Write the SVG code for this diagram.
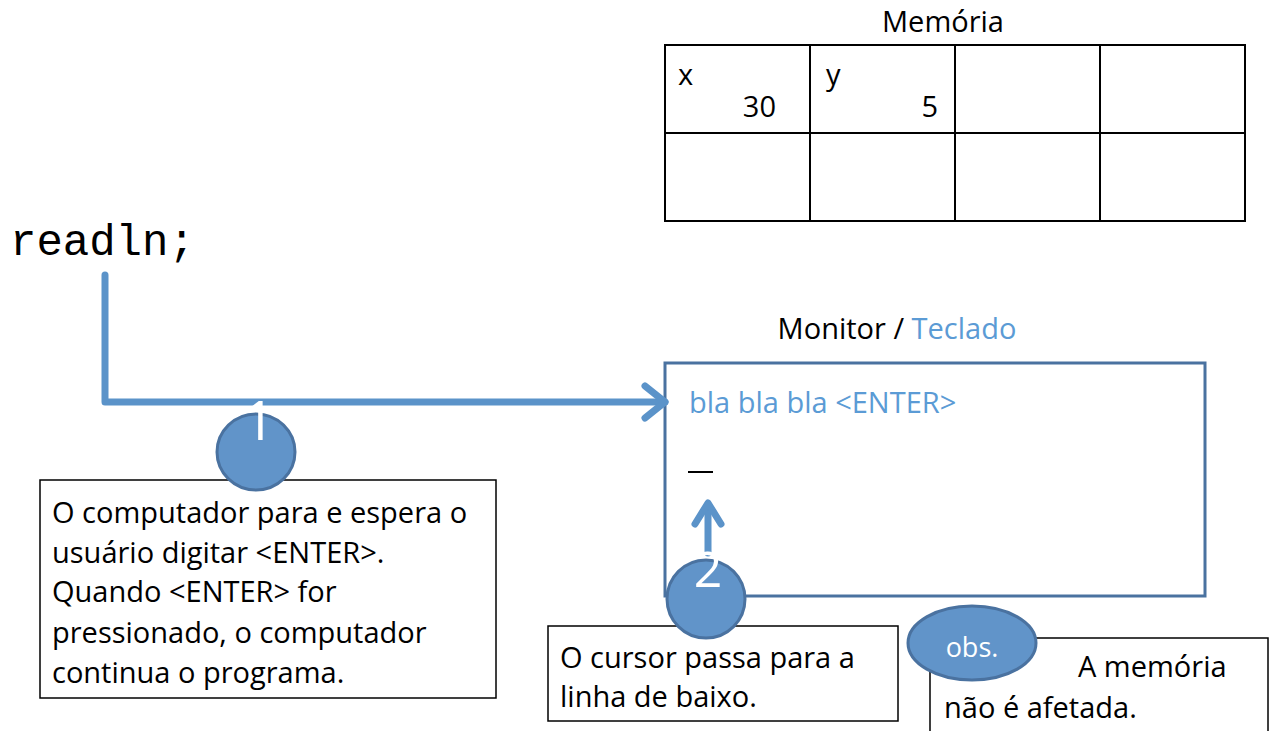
<svg xmlns="http://www.w3.org/2000/svg" width="1271" height="731" viewBox="0 0 1271 731">
<style>
.t{font-family:"Open Sans","Liberation Sans",sans-serif;font-size:29px;fill:#000}
.b{fill:#5b9bd5}
.w{fill:#fff}
.cell{fill:none;stroke:#000;stroke-width:2}
.box{fill:#fff;stroke:#000;stroke-width:1.5}
.bub{fill:#6194c9;stroke:#4a72a0;stroke-width:3}
.con{fill:none;stroke:#5b93c9;stroke-width:7;stroke-linecap:round;stroke-linejoin:round}
</style>
<rect width="1271" height="731" fill="#fff"/>
<g id="memoria">
<text class="t" x="943" y="32" text-anchor="middle">Memória</text>
<rect class="cell" x="665" y="45" width="580" height="176"/>
<line class="cell" x1="810" y1="45" x2="810" y2="221"/>
<line class="cell" x1="955" y1="45" x2="955" y2="221"/>
<line class="cell" x1="1100" y1="45" x2="1100" y2="221"/>
<line class="cell" x1="665" y1="133" x2="1245" y2="133"/>
<text class="t" x="678" y="85">x</text>
<text class="t" x="776" y="117" text-anchor="end">30</text>
<text class="t" x="826" y="85">y</text>
<text class="t" x="938" y="117" text-anchor="end">5</text>
</g>
<g id="code">
<text x="10" y="255" style="font-family:'Liberation Mono',monospace;font-size:44px">readln;</text>
</g>
<g id="monitor">
<text class="t" x="897" y="339" text-anchor="middle">Monitor / <tspan class="b">Teclado</tspan></text>
<rect x="665" y="363" width="540" height="233" fill="#fff" stroke="#4a72a0" stroke-width="3"/>
<text class="t b" x="689" y="413">bla bla bla &lt;ENTER&gt;</text>
<line x1="688" y1="472" x2="713" y2="472" stroke="#000" stroke-width="2"/>
</g>
<g id="connectors">
<polyline class="con" points="105,275 105,402 665,402"/>
<polyline class="con" points="645,386 665,402 645,418"/>
<line class="con" x1="708" y1="553" x2="708" y2="505"/>
<polyline class="con" points="695,524 708,503 721,524"/>
</g>
<g id="box1">
<rect class="box" x="40" y="480" width="456" height="218"/>
<text class="t" x="52" y="523">O computador para e espera o</text>
<text class="t" x="52" y="563">usuário digitar &lt;ENTER&gt;.</text>
<text class="t" x="52" y="602">Quando &lt;ENTER&gt; for</text>
<text class="t" x="52" y="643">pressionado, o computador</text>
<text class="t" x="52" y="683">continua o programa.</text>
</g>
<g id="badge1">
<ellipse class="bub" cx="256" cy="452" rx="39" ry="38"/>
<text class="t w" x="259" y="440" text-anchor="middle" style="font-size:55px">1</text>
</g>
<g id="box2">
<rect class="box" x="548" y="626" width="350" height="95"/>
<text class="t" x="560" y="668">O cursor passa para a</text>
<text class="t" x="560" y="707">linha de baixo.</text>
</g>
<g id="badge2">
<ellipse class="bub" cx="706" cy="599" rx="39" ry="39"/>
<text class="t w" x="708" y="587" text-anchor="middle" style="font-size:50px">2</text>
</g>
<g id="box3">
<rect class="box" x="930" y="638" width="338" height="100"/>
<text class="t" x="1078" y="677">A memória</text>
<text class="t" x="944" y="718">não é afetada.</text>
</g>
<g id="obs">
<ellipse class="bub" cx="972" cy="643" rx="64" ry="37"/>
<text class="t w" x="972" y="657" text-anchor="middle" style="font-size:27px">obs.</text>
</g>
</svg>
